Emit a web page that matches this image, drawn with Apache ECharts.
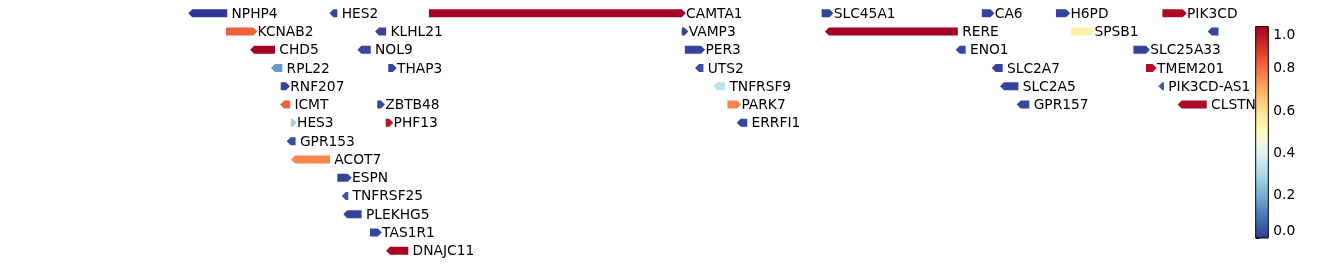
<!DOCTYPE html>
<html><head><meta charset="utf-8">
<script src="https://cdn.jsdelivr.net/npm/echarts@6/dist/echarts.min.js"></script>
<style>html,body{margin:0;padding:0;background:#fff}#c{width:1338px;height:265px}</style>
</head><body><div id="c"></div>
<script>
// Gene track data (positions in Mb)
const genes   = ['NPHP4','HES2','CAMTA1','SLC45A1','CA6','H6PD','PIK3CD',
                 'KCNAB2','KLHL21','VAMP3','RERE','SPSB1','CTNNBIP1',
                 'CHD5','NOL9','PER3','ENO1','SLC25A33',
                 'RPL22','THAP3','UTS2','SLC2A7','TMEM201',
                 'RNF207','TNFRSF9','SLC2A5','PIK3CD-AS1',
                 'ICMT','ZBTB48','PARK7','GPR157','CLSTN1',
                 'HES3','PHF13','ERRFI1',
                 'GPR153','ACOT7','ESPN','TNFRSF25','PLEKHG5','TAS1R1','DNAJC11'];
const starts  = [5.847,6.388,6.754,8.259,8.873,9.157,9.565,
                 5.976,6.563,7.723,8.287,9.214,9.754,
                 6.084,6.495,7.735,8.788,9.454,
                 6.164,6.598,7.789,8.926,9.502,
                 6.186,7.859,8.958,9.565,
                 6.199,6.556,7.898,9.022,9.639,
                 6.225,6.588,7.949,
                 6.224,6.241,6.403,6.435,6.441,6.528,6.605];
const ends    = [5.981,6.403,7.723,8.289,8.906,9.196,9.643,
                 6.081,6.590,7.733,8.781,9.288,9.800,
                 6.164,6.531,7.797,8.811,9.502,
                 6.192,6.615,7.806,8.953,9.528,
                 6.206,7.889,9.013,9.571,
                 6.222,6.570,7.935,9.055,9.735,
                 6.232,6.602,7.974,
                 6.243,6.375,6.443,6.445,6.496,6.558,6.675];
const strands = [-1,-1,1,1,1,1,1,
                 1,-1,1,-1,1,-1,
                 -1,-1,1,-1,1,
                 -1,1,-1,-1,1,
                 1,-1,-1,-1,
                 -1,1,1,-1,-1,
                 1,1,-1,
                 -1,-1,1,-1,-1,1,-1];
const rows    = [0,0,0,0,0,0,0,
                 1,1,1,1,1,1,
                 2,2,2,2,2,
                 3,3,3,3,3,
                 4,4,4,4,
                 5,5,5,5,5,
                 6,6,6,
                 7,8,9,10,11,12,13];
const values  = [0.0,0.02,1.0,0.02,0.02,0.02,0.98,
                 0.82,0.02,0.02,1.0,0.55,0.03,
                 1.0,0.03,0.02,0.03,0.02,
                 0.17,0.02,0.04,0.02,0.97,
                 0.02,0.33,0.02,0.06,
                 0.82,0.03,0.77,0.03,0.98,
                 0.28,0.95,0.02,
                 0.04,0.76,0.02,0.05,0.02,0.02,0.99];
const regionStart = 5.80, regionEnd = 9.78;
const colorbarTicks = [0.0,0.2,0.4,0.6,0.8,1.0];
const cmap = ['#313695','#4575b4','#74add1','#abd9e9','#e0f3f8','#ffffbf','#fee090','#fdae61','#f46d43','#d73027','#a50026'];

const data = genes.map((g,i)=>[starts[i], ends[i], rows[i], strands[i], values[i]]);
const HEAD = 4, HALF = 4, LABEL_PAD = 4.3, TEXT_DY = 0.9;
const FONT = '"DejaVu Sans", sans-serif';
const FS = 13.8;

function renderGene(params, api){
  const cs = params.coordSys;
  const s = api.coord([api.value(0), api.value(2)]);
  const e = api.coord([api.value(1), api.value(2)]);
  const y = s[1];
  const strand = api.value(3);
  let pts;
  if (strand > 0) pts = [[s[0], y-HALF],[e[0], y-HALF],[e[0]+HEAD, y],[e[0], y+HALF],[s[0], y+HALF]];
  else pts = [[s[0]-HEAD, y],[s[0], y-HALF],[e[0], y-HALF],[e[0], y+HALF],[s[0], y+HALF]];
  const xr = cs.x + cs.width;
  pts = pts.map(p=>[Math.min(Math.max(p[0], cs.x), xr), p[1]]);
  const children = [{type:'polygon', shape:{points:pts}, style:{fill: api.visual('color')}}];
  const lx = e[0] + LABEL_PAD;
  if (lx < xr) children.push({type:'text', x: lx, y: y + TEXT_DY,
      style:{text: genes[params.dataIndex], fill:'#000', fontSize:FS, fontFamily:FONT,
             align:'left', verticalAlign:'middle'}});
  return {type:'group', children};
}

function renderBar(params, api){
  const cs = params.coordSys;
  const stops = cmap.map((c,i)=>({offset: 1 - i/(cmap.length-1), color:c})).reverse();
  return {type:'rect', shape:{x:cs.x, y:cs.y, width:cs.width, height:cs.height},
    style:{fill: new echarts.graphic.LinearGradient(0,0,0,1, stops), stroke:'#000', lineWidth:1}};
}

const chart = echarts.init(document.getElementById('c'), null, {renderer:'canvas'});
chart.setOption({
  animation:false,
  backgroundColor:'#fff',
  grid:[
    {left:180, right:119.5, top:4.2, height:255.6},
    {left:1255.7, width:12.6, top:26.5, height:211.5}
  ],
  xAxis:[
    {type:'value', gridIndex:0, min:regionStart, max:regionEnd, show:false},
    {type:'value', gridIndex:1, min:0, max:1, show:false}
  ],
  yAxis:[
    {type:'value', gridIndex:0, min:-0.5, max:13.5, inverse:true, show:false},
    {type:'value', gridIndex:1, min:colorbarTicks[0], max:colorbarTicks[colorbarTicks.length-1], interval:0.2,
     position:'right', splitLine:{show:false},
     axisLine:{show:false}, axisTick:{show:true, length:3.5, lineStyle:{color:'#000'}},
     axisLabel:{margin:5, color:'#000', fontSize:FS, fontFamily:FONT, formatter:v=>v.toFixed(1),
       padding:[2,0,0,0],
       verticalAlignMaxLabel:'top', verticalAlignMinLabel:'bottom'}}
  ],
  visualMap:{type:'continuous', show:false, min:0, max:1, dimension:4, seriesIndex:0, inRange:{color:cmap}},
  series:[
    {type:'custom', xAxisIndex:0, yAxisIndex:0, renderItem:renderGene, data:data, z:2},
    {type:'custom', xAxisIndex:1, yAxisIndex:1, renderItem:renderBar, data:[[0,0]], z:10, silent:true}
  ]
});
</script></body></html>
